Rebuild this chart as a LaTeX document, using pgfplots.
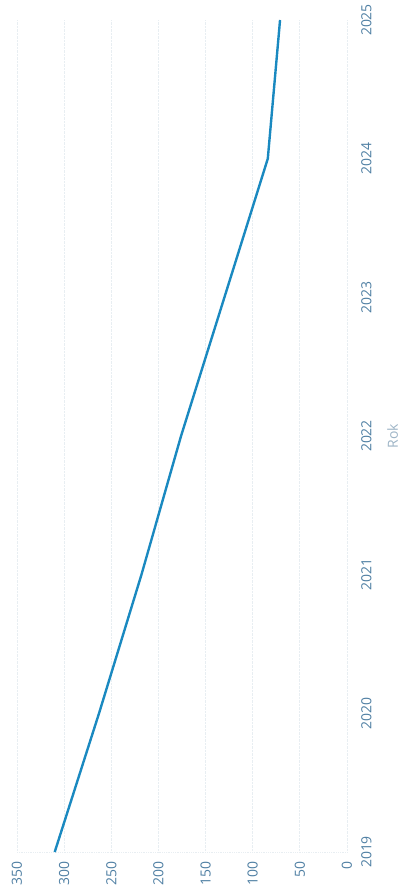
\documentclass[border=0pt]{standalone}
\usepackage{fontspec}
\setmainfont{Open Sans}
\usepackage{pgfplots}
\pgfplotsset{compat=1.18}
\definecolor{linec}{HTML}{1A89C0}
\definecolor{tickc}{HTML}{4F7FA3}
\definecolor{labc}{HTML}{9DB4C6}
\definecolor{gridc}{HTML}{E8EEF2}
\begin{document}
\begin{tikzpicture}
\begin{axis}[
  at={(0,0)}, anchor=south west,
  scale only axis, width=330bp, height=832bp,
  xmin=0, xmax=350, x dir=reverse,
  ymin=2019, ymax=2025,
  xtick={0,50,...,350}, ytick={2019,2020,...,2025},
  /pgf/number format/assume math mode=true,
  /pgf/number format/1000 sep={},
  tick style={draw=none},
  axis line style={draw=none},
  xmajorgrids,
  major grid style={gridc, densely dotted, line width=0.8pt},
  ticklabel style={font=\fontsize{14}{16}\selectfont, text=tickc},
  xticklabel style={rotate=90, anchor=east, inner xsep=9bp},
  yticklabel pos=right,
  yticklabel style={xshift=14bp, rotate=90, anchor=north, inner ysep=0bp},
  ylabel={Rok},
  every axis y label/.style={at={(axis description cs:1,0.5)}, xshift=40bp, rotate=90, anchor=north, inner sep=0pt, font=\fontsize{14}{16}\selectfont, text=labc},
  clip=false,
]
\draw[gridc, densely dotted, line width=0.8pt] (axis cs:350,2019) -- (axis cs:0,2019);
\addplot[linec, line width=2.4pt, line join=round] coordinates {
  (310,2019) (263,2020) (218,2021) (176,2022) (130,2023) (84,2024) (71,2025)
};
\end{axis}
\pgfresetboundingbox
\path (-17bp,-36bp) rectangle (389bp,852bp);
\end{tikzpicture}
\end{document}
